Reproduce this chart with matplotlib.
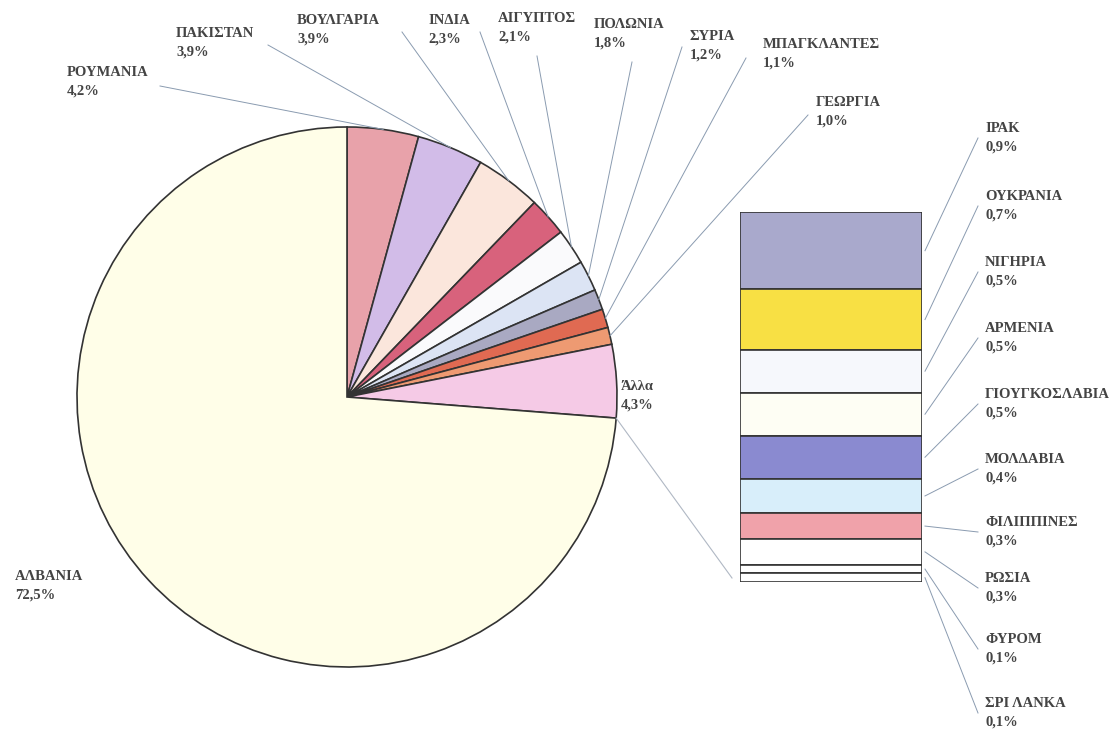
import numpy as np
import matplotlib.pyplot as plt

# Pie data (clockwise from 12 o'clock, Albania last)
pie_names = ["ΡΟΥΜΑΝΙΑ", "ΠΑΚΙΣΤΑΝ", "ΒΟΥΛΓΑΡΙΑ", "ΙΝΔΙΑ", "ΑΙΓΥΠΤΟΣ", "ΠΟΛΩΝΙΑ",
             "ΣΥΡΙΑ", "ΜΠΑΓΚΛΑΝΤΕΣ", "ΓΕΩΡΓΙΑ", "Άλλα", "ΑΛΒΑΝΙΑ"]
pie_values = [4.2, 3.9, 3.9, 2.3, 2.1, 1.8, 1.2, 1.1, 1.0, 4.3, 72.5]
pie_colors = ["#e8a2aa", "#d2bce8", "#fbe6dc", "#d8627c", "#fafafc", "#dce4f4",
              "#a9a9c2", "#e06a52", "#ee9a72", "#f5cae6", "#fffee8"]

# "Άλλα" breakdown (top to bottom of the bar)
bar_names = ["ΙΡΑΚ", "ΟΥΚΡΑΝΙΑ", "ΝΙΓΗΡΙΑ", "ΑΡΜΕΝΙΑ", "ΓΙΟΥΓΚΟΣΛΑΒΙΑ", "ΜΟΛΔΑΒΙΑ",
             "ΦΙΛΙΠΠΙΝΕΣ", "ΡΩΣΙΑ", "ΦΥΡΟΜ", "ΣΡΙ ΛΑΝΚΑ"]
bar_values = [0.9, 0.7, 0.5, 0.5, 0.5, 0.4, 0.3, 0.3, 0.1, 0.1]
bar_colors = ["#a9a9cc", "#f8e044", "#f6f8fc", "#fefef4", "#8a8ad0", "#d8eefa",
              "#f0a2aa", "#ffffff", "#ffffff", "#ffffff"]

W, H = 1117, 732
def Y(y):
    return H - y

def pct(v):
    return f"{v:.1f}".replace(".", ",") + "%"

plt.rcParams['font.family'] = ['Liberation Serif', 'DejaVu Serif']
txt_kw = dict(fontsize=10.5, color="#444444", fontweight="bold", va="top", ha="left", linespacing=1.55)
lead_kw = dict(color="#8a9bb0", lw=0.7)

fig = plt.figure(figsize=(W / 100, H / 100), dpi=100)
ax = fig.add_axes([0, 0, 1, 1])

cx, cy, r = 347, Y(397), 270
wedges, _ = ax.pie(pie_values, colors=pie_colors, startangle=90, counterclock=False,
                   center=(cx, cy), radius=r,
                   wedgeprops=dict(edgecolor="#333333", linewidth=1.2))
ax.set_xlim(0, W)
ax.set_ylim(0, H)
ax.set_aspect("equal")
ax.axis("off")

# pie labels: text top-left and leader start (pixels)
label_pos = [(67, 66), (176, 27), (297, 14), (428, 14), (498, 12), (594, 18),
             (690, 30), (763, 38), (816, 96), (621, 380), (15, 570)]
leader_start = [(160, 86), (268, 45), (402, 32), (480, 32), (537, 56), (632, 62),
                (682, 47), (746, 58), (808, 115), None, None]

for w, name, v, (lx, ly), ls in zip(wedges, pie_names, pie_values, label_pos, leader_start):
    ax.text(lx, Y(ly), name + "\n" + pct(v), **txt_kw)
    if ls is not None:
        ang = np.deg2rad((w.theta1 + w.theta2) / 2)
        ex, ey = cx + r * np.cos(ang), cy + r * np.sin(ang)
        ax.plot([ls[0], ex], [Y(ls[1]), ey], **lead_kw)

# bar of "Άλλα"
bx0, by0, bw, bh = 740, 582, 182, 370
axb = fig.add_axes([bx0 / W, (H - by0) / H, bw / W, bh / H])
total = sum(bar_values)
bottoms = total - np.cumsum(bar_values)
axb.bar(0, bar_values, bottom=bottoms, width=1, color=bar_colors,
        edgecolor="#333333", linewidth=1.2)
axb.set_xlim(-0.5, 0.5)
axb.set_ylim(0, total)
axb.axis("off")

# connector from pie to bar bottom
others = wedges[pie_names.index("Άλλα")]
a1 = np.deg2rad(others.theta1)
ax.plot([cx + r * np.cos(a1), bx0 - 8], [cy + r * np.sin(a1), Y(by0 - 4)], color="#b0b8c4", lw=0.8)

# bar labels
bar_label_y = [122, 190, 256, 322, 388, 453, 516, 572, 633, 697]
for name, v, b, ly in zip(bar_names, bar_values, bottoms, bar_label_y):
    ax.text(985, Y(ly), name + "\n" + pct(v), **txt_kw)
    mid = (b + v / 2) / total
    ax.plot([978, bx0 + bw + 3], [Y(ly + 16), Y(by0) + mid * bh], **lead_kw)

plt.savefig("out.png", dpi=100)
